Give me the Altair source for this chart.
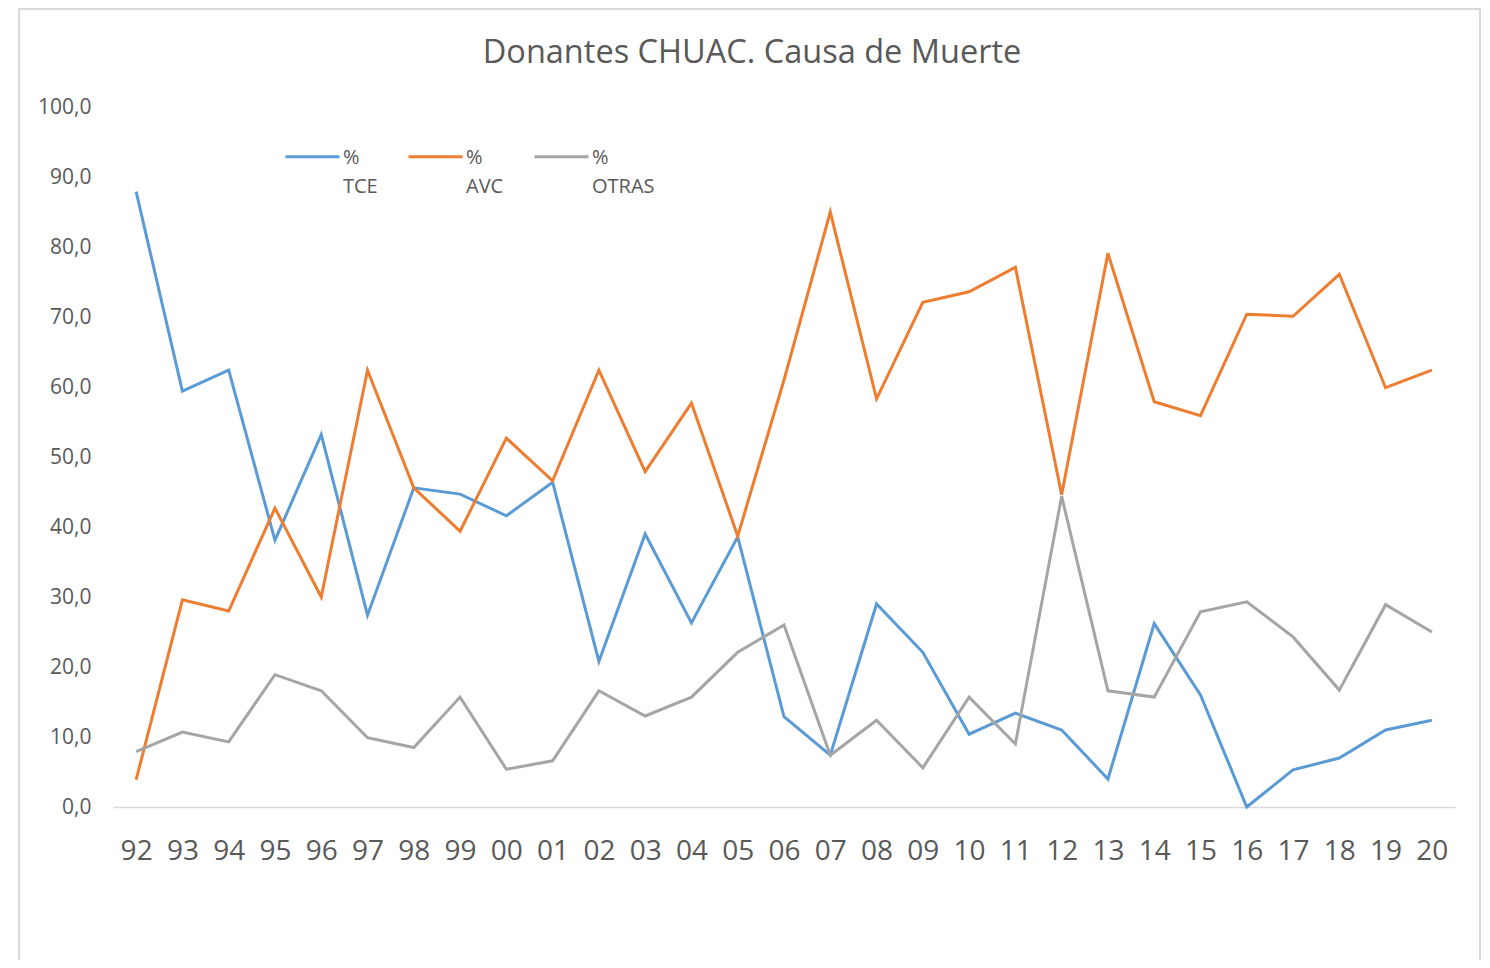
import altair as alt
import pandas as pd

years = ["92", "93", "94", "95", "96", "97", "98", "99", "00", "01", "02", "03", "04", "05",
         "06", "07", "08", "09", "10", "11", "12", "13", "14", "15", "16", "17", "18", "19", "20"]
tce = [87.9, 59.4, 62.4, 38.1, 53.2, 27.4, 45.6, 44.7, 41.6, 46.4, 20.8, 39.0, 26.3, 38.6,
       12.9, 7.4, 29.0, 22.1, 10.4, 13.4, 11.0, 4.0, 26.2, 16.0, 0.0, 5.3, 7.0, 11.0, 12.4]
avc = [3.9, 29.6, 28.0, 42.7, 30.0, 62.4, 45.6, 39.4, 52.7, 46.6, 62.4, 47.9, 57.7, 38.7,
       61.0, 85.0, 58.3, 72.1, 73.6, 77.1, 44.6, 79.1, 57.9, 55.9, 70.4, 70.1, 76.1, 59.9, 62.4]
otras = [7.9, 10.7, 9.3, 18.9, 16.6, 9.9, 8.5, 15.7, 5.4, 6.6, 16.6, 13.0, 15.7, 22.1,
         26.0, 7.4, 12.4, 5.6, 15.7, 9.0, 44.4, 16.6, 15.7, 27.9, 29.3, 24.3, 16.7, 28.9, 25.0]
series_names = ["TCE", "AVC", "OTRAS"]
series_colors = ["#5B9BD5", "#ED7D31", "#A5A5A5"]
chart_title = "Donantes CHUAC. Causa de Muerte"

rows = []
for name, vals in zip(series_names, [tce, avc, otras]):
    for i, (y, v) in enumerate(zip(years, vals)):
        rows.append({"year": y, "value": v, "serie": name, "order": i})
df = pd.DataFrame(rows)

FONT = "Open Sans"
GREY_TEXT = "#595959"
W, H = 1342, 700

lines = alt.Chart(df).mark_line(strokeWidth=3).encode(
    x=alt.X("year:O", sort=years, scale=alt.Scale(padding=0.5),
            axis=alt.Axis(title=None, labelAngle=0, ticks=False, tickSize=0,
                          domainColor="#D9D9D9", domainWidth=1.5,
                          labelFont=FONT, labelFontSize=28, labelColor=GREY_TEXT,
                          labelPadding=30)),
    y=alt.Y("value:Q", scale=alt.Scale(domain=[0, 100], nice=False, zero=True),
            axis=alt.Axis(title=None, values=list(range(0, 101, 10)), grid=False,
                          domain=False, ticks=False, tickSize=0,
                          labelExpr="replace(format(datum.value, '.1f'), '.', ',')",
                          labelFont=FONT, labelFontSize=21, labelColor=GREY_TEXT,
                          labelPadding=22)),
    color=alt.Color("serie:N", sort=series_names,
                    scale=alt.Scale(domain=series_names, range=series_colors),
                    legend=alt.Legend(orient="none", legendX=171, legendY=28,
                                      direction="horizontal", title=None,
                                      columnPadding=24, labelOffset=2,
                                      labelFont=FONT, labelFontSize=20,
                                      labelColor=GREY_TEXT, labelLimit=300,
                                      labelBaseline="alphabetic",
                                      labelExpr="['%', datum.label]",
                                      symbolType="M-1,-0.26L1,-0.26",
                                      symbolSize=2916, symbolStrokeWidth=3)),
    order="order:Q",
)

title_df = pd.DataFrame({"t": [chart_title]})
title = alt.Chart(title_df).mark_text(
    font=FONT, fontSize=32.5, color=GREY_TEXT, align="center", baseline="middle"
).encode(text="t:N", x=alt.value(639), y=alt.value(-54))

frame = alt.Chart(title_df).mark_rect(fill=None, stroke="#D9D9D9", strokeWidth=2).encode(
    x=alt.value(-94), x2=alt.value(1367), y=alt.value(-98), y2=alt.value(880)
)

chart = alt.layer(frame, lines, title).properties(
    width=W, height=H,
    autosize=alt.AutoSizeParams(type="none"),
    padding={"left": 105, "top": 99, "right": 27, "bottom": 153},
).configure(
    style={"guide-label": {"lineHeight": 29}},
    view=alt.ViewConfig(stroke="transparent"),
)

chart.save("out.html", embed_options={"renderer": "svg", "actions": False})
